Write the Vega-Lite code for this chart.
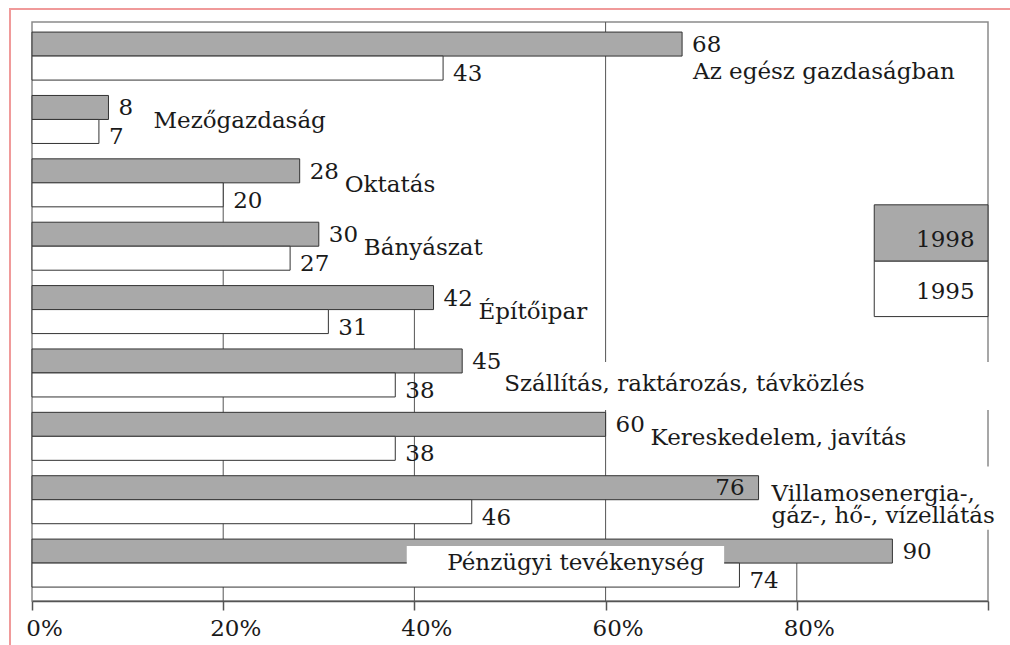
{
  "$schema": "https://vega.github.io/schema/vega-lite/v6.json",
  "width": 956,
  "height": 579,
  "autosize": {"type": "none"},
  "padding": {"left": 32, "top": 22, "right": 22, "bottom": 44},
  "background": "white",
  "view": {"stroke": "#8a8a8a", "strokeWidth": 1.5},
  "config": {
    "font": "DejaVu Serif",
    "text": {"font": "DejaVu Serif", "fontSize": 23, "fill": "#1a1a1a"}
  },
  "datasets": {
    "bars": [
      {"cat": "Az egész gazdaságban", "label": "Az egész gazdaságban", "year": "1998", "value": 68},
      {"cat": "Az egész gazdaságban", "label": "Az egész gazdaságban", "year": "1995", "value": 43},
      {"cat": "Mezőgazdaság", "label": "Mezőgazdaság", "year": "1998", "value": 8},
      {"cat": "Mezőgazdaság", "label": "Mezőgazdaság", "year": "1995", "value": 7},
      {"cat": "Oktatás", "label": "Oktatás", "year": "1998", "value": 28},
      {"cat": "Oktatás", "label": "Oktatás", "year": "1995", "value": 20},
      {"cat": "Bányászat", "label": "Bányászat", "year": "1998", "value": 30},
      {"cat": "Bányászat", "label": "Bányászat", "year": "1995", "value": 27},
      {"cat": "Építőipar", "label": "Építőipar", "year": "1998", "value": 42},
      {"cat": "Építőipar", "label": "Építőipar", "year": "1995", "value": 31},
      {"cat": "Szállítás, raktározás, távközlés", "label": "Szállítás, raktározás, távközlés", "year": "1998", "value": 45},
      {"cat": "Szállítás, raktározás, távközlés", "label": "Szállítás, raktározás, távközlés", "year": "1995", "value": 38},
      {"cat": "Kereskedelem, javítás", "label": "Kereskedelem, javítás", "year": "1998", "value": 60},
      {"cat": "Kereskedelem, javítás", "label": "Kereskedelem, javítás", "year": "1995", "value": 38},
      {"cat": "Villamosenergia-, gáz-, hő-, vízellátás", "label": ["Villamosenergia-,", "gáz-, hő-, vízellátás"], "year": "1998", "value": 76},
      {"cat": "Villamosenergia-, gáz-, hő-, vízellátás", "label": ["Villamosenergia-,", "gáz-, hő-, vízellátás"], "year": "1995", "value": 46},
      {"cat": "Pénzügyi tevékenység", "label": "Pénzügyi tevékenység", "year": "1998", "value": 90},
      {"cat": "Pénzügyi tevékenység", "label": "Pénzügyi tevékenység", "year": "1995", "value": 74}
    ]
  },
  "layer": [
    {
      "data": {"values": [{"a": -2.3, "b": 103.5, "top": "Az egész gazdaságban", "bottom": "Pénzügyi tevékenység"}]},
      "mark": {"type": "rect", "fillOpacity": 0, "stroke": "#f09a9a", "strokeWidth": 2},
      "encoding": {
        "x": {"field": "a", "type": "quantitative", "scale": {"domain": [0, 100], "nice": false, "zero": true}},
        "x2": {"field": "b"},
        "y": {"field": "top", "type": "nominal", "bandPosition": -0.479, "axis": null,
              "scale": {"domain": ["Az egész gazdaságban", "Mezőgazdaság", "Oktatás", "Bányászat", "Építőipar", "Szállítás, raktározás, távközlés", "Kereskedelem, javítás", "Villamosenergia-, gáz-, hő-, vízellátás", "Pénzügyi tevékenység"], "paddingInner": 0.2426, "paddingOuter": 0.1893, "align": 0.42}},
        "y2": {"field": "bottom", "bandPosition": 2.6}
      }
    },
    {
      "data": {"values": [{"v": 20, "stop": "Oktatás"}, {"v": 40, "stop": "Építőipar"}, {"v": 80, "stop": "Pénzügyi tevékenység"}]},
      "mark": {"type": "rule", "color": "#555555", "strokeWidth": 1},
      "encoding": {
        "x": {"field": "v", "type": "quantitative", "scale": {"domain": [0, 100], "nice": false, "zero": true}},
        "y": {"field": "stop", "type": "nominal", "bandPosition": 0.5, "axis": null,
              "scale": {"domain": ["Az egész gazdaságban", "Mezőgazdaság", "Oktatás", "Bányászat", "Építőipar", "Szállítás, raktározás, távközlés", "Kereskedelem, javítás", "Villamosenergia-, gáz-, hő-, vízellátás", "Pénzügyi tevékenység"], "paddingInner": 0.2426, "paddingOuter": 0.1893, "align": 0.42}},
        "y2": {"value": "height"}
      }
    },
    {
      "data": {"values": [{}]},
      "mark": {"type": "rule", "color": "#555555", "strokeWidth": 1},
      "encoding": {"x": {"datum": 60, "type": "quantitative"}}
    },
    {
      "data": {"name": "bars"},
      "mark": {"type": "bar", "stroke": "#333333", "strokeWidth": 1},
      "encoding": {
        "x": {"field": "value", "type": "quantitative", "scale": {"domain": [0, 100], "nice": false, "zero": true},
              "axis": {"values": [0, 20, 40, 60, 80, 100], "labelExpr": "datum.value == 100 ? '' : datum.value + '%'", "title": null, "grid": false,
                       "domainColor": "#555555", "domainWidth": 1.5, "tickColor": "#555555", "tickWidth": 1.5, "tickSize": 9,
                       "labelFont": "DejaVu Serif", "labelFontSize": 23, "labelColor": "#1a1a1a", "labelOffset": 12, "labelPadding": 7, "labelFlush": false}},
        "y": {"field": "cat", "type": "nominal", "axis": null,
              "scale": {"domain": ["Az egész gazdaságban", "Mezőgazdaság", "Oktatás", "Bányászat", "Építőipar", "Szállítás, raktározás, távközlés", "Kereskedelem, javítás", "Villamosenergia-, gáz-, hő-, vízellátás", "Pénzügyi tevékenység"], "paddingInner": 0.2426, "paddingOuter": 0.1893, "align": 0.42}},
        "yOffset": {"field": "year", "type": "nominal", "scale": {"domain": ["1998", "1995"], "paddingInner": 0, "paddingOuter": 0}},
        "fill": {"field": "year", "type": "nominal", "scale": {"domain": ["1998", "1995"], "range": ["#a9a9a9", "#ffffff"]}, "legend": null}
      }
    },
    {
      "data": {"values": [{}]},
      "mark": {"type": "rect", "fill": "white"},
      "encoding": {
        "x": {"datum": 49.0, "type": "quantitative"}, "x2": {"datum": 100.7},
        "y": {"datum": "Szállítás, raktározás, távközlés", "type": "nominal", "bandPosition": 0.27},
        "y2": {"datum": "Szállítás, raktározás, távközlés", "bandPosition": 1.27}
      }
    },
    {
      "data": {"values": [{}]},
      "mark": {"type": "rect", "fill": "white"},
      "encoding": {
        "x": {"datum": 76.8, "type": "quantitative"}, "x2": {"datum": 102.1},
        "y": {"datum": "Villamosenergia-, gáz-, hő-, vízellátás", "type": "nominal", "bandPosition": -0.19},
        "y2": {"datum": "Villamosenergia-, gáz-, hő-, vízellátás", "bandPosition": 1.125}
      }
    },
    {
      "data": {"values": [{}]},
      "mark": {"type": "rect", "fill": "white"},
      "encoding": {
        "x": {"datum": 39.2, "type": "quantitative"}, "x2": {"datum": 72.4},
        "y": {"datum": "Pénzügyi tevékenység", "type": "nominal", "bandPosition": 0.146},
        "y2": {"datum": "Pénzügyi tevékenység", "bandPosition": 0.958}
      }
    },
    {
      "data": {"name": "bars"},
      "transform": [{"filter": "datum.year == '1998' && datum.value != 76"}],
      "mark": {"type": "text", "align": "left", "baseline": "middle", "dx": 10, "dy": 1},
      "encoding": {
        "x": {"field": "value", "type": "quantitative"},
        "y": {"field": "cat", "type": "nominal"},
        "yOffset": {"field": "year", "type": "nominal", "scale": {"domain": ["1998", "1995"], "paddingInner": 0, "paddingOuter": 0}},
        "text": {"field": "value", "type": "quantitative"}
      }
    },
    {
      "data": {"name": "bars"},
      "transform": [{"filter": "datum.year == '1998' && datum.value == 76"}],
      "mark": {"type": "text", "align": "right", "baseline": "middle", "dx": -14, "dy": 0},
      "encoding": {
        "x": {"field": "value", "type": "quantitative"},
        "y": {"field": "cat", "type": "nominal"},
        "yOffset": {"field": "year", "type": "nominal", "scale": {"domain": ["1998", "1995"], "paddingInner": 0, "paddingOuter": 0}},
        "text": {"field": "value", "type": "quantitative"}
      }
    },
    {
      "data": {"name": "bars"},
      "transform": [{"filter": "datum.year == '1995'"}],
      "mark": {"type": "text", "align": "left", "baseline": "middle", "dx": 10, "dy": 6},
      "encoding": {
        "x": {"field": "value", "type": "quantitative"},
        "y": {"field": "cat", "type": "nominal"},
        "yOffset": {"field": "year", "type": "nominal", "scale": {"domain": ["1998", "1995"], "paddingInner": 0, "paddingOuter": 0}},
        "text": {"field": "value", "type": "quantitative"}
      }
    },
    {
      "data": {"name": "bars"},
      "transform": [{"filter": "datum.year == '1998' && indexof(['Mezőgazdaság', 'Oktatás', 'Bányászat', 'Építőipar', 'Kereskedelem, javítás'], datum.cat) >= 0"}],
      "mark": {"type": "text", "align": "left", "baseline": "middle", "dx": 45, "dy": 2},
      "encoding": {
        "x": {"field": "value", "type": "quantitative"},
        "y": {"field": "cat", "type": "nominal", "bandPosition": 0.5},
        "text": {"field": "label"}
      }
    },
    {
      "data": {"name": "bars"},
      "transform": [{"filter": "datum.year == '1998' && datum.cat == 'Szállítás, raktározás, távközlés'"}],
      "mark": {"type": "text", "align": "left", "baseline": "middle", "dx": 42, "dy": 11},
      "encoding": {
        "x": {"field": "value", "type": "quantitative"},
        "y": {"field": "cat", "type": "nominal", "bandPosition": 0.5},
        "text": {"field": "label"}
      }
    },
    {
      "data": {"name": "bars"},
      "transform": [{"filter": "datum.year == '1998' && datum.cat == 'Az egész gazdaságban'"}],
      "mark": {"type": "text", "align": "left", "baseline": "middle", "dx": 11, "dy": 16},
      "encoding": {
        "x": {"field": "value", "type": "quantitative"},
        "y": {"field": "cat", "type": "nominal", "bandPosition": 0.5},
        "text": {"field": "label"}
      }
    },
    {
      "data": {"name": "bars"},
      "transform": [{"filter": "datum.year == '1998' && datum.value == 76"}],
      "mark": {"type": "text", "align": "left", "baseline": "middle", "dx": 13, "dy": -6, "lineHeight": 22},
      "encoding": {
        "x": {"field": "value", "type": "quantitative"},
        "y": {"field": "cat", "type": "nominal", "bandPosition": 0.5},
        "text": {"field": "label"}
      }
    },
    {
      "data": {"name": "bars"},
      "transform": [{"filter": "datum.year == '1995' && datum.cat == 'Pénzügyi tevékenység'"}],
      "mark": {"type": "text", "align": "right", "baseline": "middle", "dx": -35, "dy": 0},
      "encoding": {
        "x": {"field": "value", "type": "quantitative"},
        "y": {"field": "cat", "type": "nominal", "bandPosition": 0.5},
        "text": {"field": "label"}
      }
    },
    {
      "data": {"values": [{"year": "1998"}]},
      "mark": {"type": "rect", "stroke": "#333333", "strokeWidth": 1},
      "encoding": {
        "x": {"datum": 88.1, "type": "quantitative"}, "x2": {"datum": 100},
        "y": {"datum": "Oktatás", "type": "nominal", "bandPosition": 0.958},
        "y2": {"datum": "Bányászat", "bandPosition": 0.8125},
        "fill": {"field": "year", "type": "nominal", "scale": {"domain": ["1998", "1995"], "range": ["#a9a9a9", "#ffffff"]}, "legend": null}
      }
    },
    {
      "data": {"values": [{"year": "1995"}]},
      "mark": {"type": "rect", "stroke": "#333333", "strokeWidth": 1},
      "encoding": {
        "x": {"datum": 88.1, "type": "quantitative"}, "x2": {"datum": 100},
        "y": {"datum": "Bányászat", "type": "nominal", "bandPosition": 0.8125},
        "y2": {"datum": "Építőipar", "bandPosition": 0.646},
        "fill": {"field": "year", "type": "nominal", "scale": {"domain": ["1998", "1995"], "range": ["#a9a9a9", "#ffffff"]}, "legend": null}
      }
    },
    {
      "data": {"values": [{"year": "1998"}]},
      "mark": {"type": "text", "align": "right", "baseline": "middle"},
      "encoding": {
        "x": {"datum": 98.6, "type": "quantitative"},
        "y": {"datum": "Bányászat", "type": "nominal", "bandPosition": 0.375},
        "text": {"field": "year"}
      }
    },
    {
      "data": {"values": [{"year": "1995"}]},
      "mark": {"type": "text", "align": "right", "baseline": "middle"},
      "encoding": {
        "x": {"datum": 98.6, "type": "quantitative"},
        "y": {"datum": "Építőipar", "type": "nominal", "bandPosition": 0.135},
        "text": {"field": "year"}
      }
    }
  ]
}
